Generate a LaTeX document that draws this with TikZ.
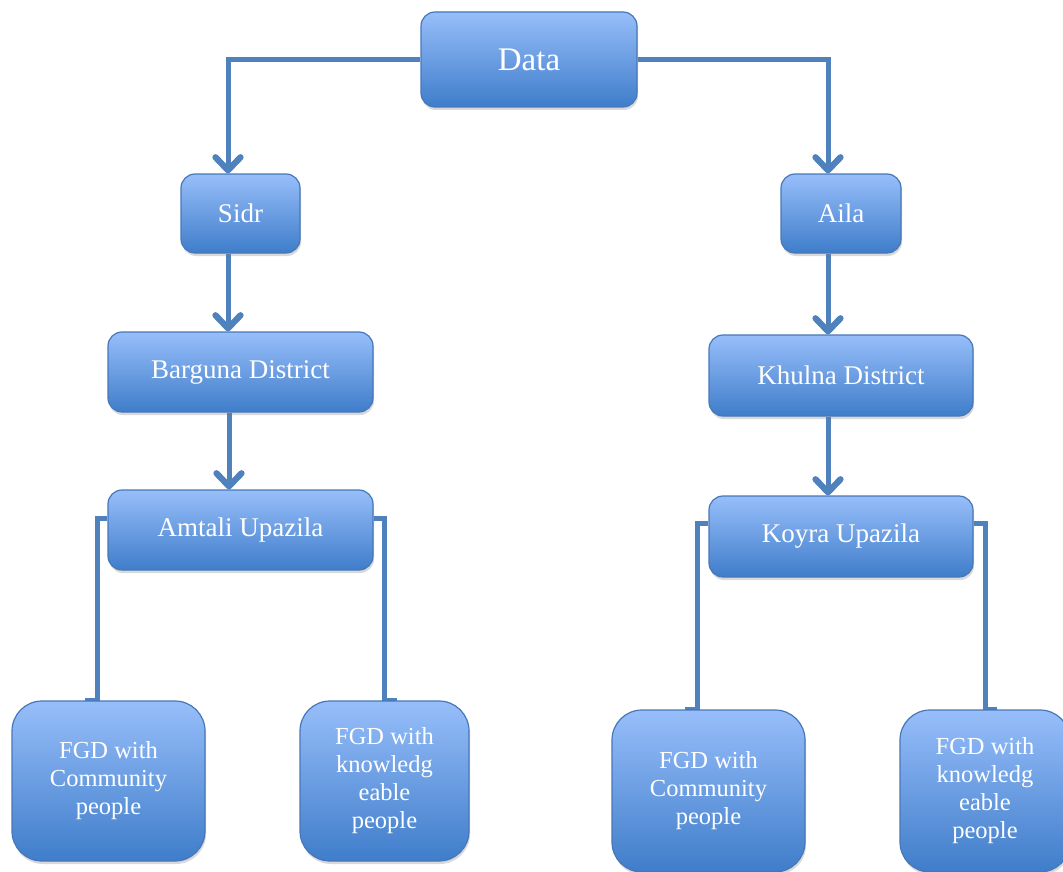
\documentclass[tikz,border=0pt]{standalone}
\usepackage{fontspec}
\setmainfont{Liberation Serif}
\usetikzlibrary{arrows.meta,shadows,backgrounds}
\definecolor{connc}{RGB}{79,129,189}
\definecolor{boxtop}{RGB}{151,190,250}
\definecolor{boxbot}{RGB}{63,125,202}
\definecolor{boxline}{RGB}{70,120,185}
\tikzset{
  box/.style={draw=boxline, line width=1.2pt, top color=boxtop, bottom color=boxbot,
    text=white, align=center, inner sep=0pt,
    drop shadow={opacity=0.3, shadow xshift=1pt, shadow yshift=-3pt}},
  smallbox/.style={box, rounded corners=14pt, font=\fontsize{27}{31}\selectfont},
  fgdbox/.style={box, rounded corners=30pt, font=\fontsize{24.5}{28}\selectfont},
  conn/.style={draw=connc, line width=5pt},
  arr/.style={-{Straight Barb[length=13pt,width=25pt,line width=0pt 1.25,round]}}
}
\begin{document}
\begin{tikzpicture}[x=1pt,y=-1pt]
\useasboundingbox (0,0) rectangle (1063,872);
\node[box, rounded corners=14pt, minimum width=216pt, minimum height=95pt,
  font=\fontsize{33}{38}\selectfont] (data) at (529,59.5) {Data};
\node[smallbox, minimum width=119pt, minimum height=79pt] (sidr) at (240.5,213.5) {Sidr};
\node[smallbox, minimum width=120pt, minimum height=79pt] (aila) at (841,213.5) {Aila};
\node[smallbox, minimum width=265pt, minimum height=80pt] (barguna) at (240.5,372) {Barguna District};
\node[smallbox, minimum width=264pt, minimum height=81pt] (khulna) at (841,375.5) {Khulna District};
\node[smallbox, minimum width=265pt, minimum height=80pt] (amtali) at (240.5,530) {Amtali Upazila};
\node[smallbox, minimum width=264pt, minimum height=81pt] (koyra) at (841,536.5) {Koyra Upazila};
\node[fgdbox, minimum width=193pt, minimum height=160pt] (fgdA) at (108.5,781) {FGD with\\Community\\people};
\node[fgdbox, minimum width=169pt, minimum height=160pt] (fgdB) at (384.5,781) {FGD with\\knowledg\\eable\\people};
\node[fgdbox, minimum width=193pt, minimum height=162pt] (fgdC) at (708.5,791) {FGD with\\Community\\people};
\node[fgdbox, minimum width=170pt, minimum height=162pt] (fgdD) at (985,791) {FGD with\\knowledg\\eable\\people};
\begin{pgfonlayer}{background}
\draw[conn,arr] (data.west) -| ([xshift=-12.5pt]sidr.north);
\draw[conn,arr] (data.east) -| ([xshift=-13pt]aila.north);
\draw[conn,arr] ([xshift=-12.5pt]sidr.south) -- ([xshift=-12.5pt]barguna.north);
\draw[conn,arr] ([xshift=-11.5pt]barguna.south) -- ([xshift=-11.5pt]amtali.north);
\draw[conn,arr] ([xshift=-13pt]aila.south) -- ([xshift=-13pt]khulna.north);
\draw[conn,arr] ([xshift=-13pt]khulna.south) -- ([xshift=-13pt]koyra.north);
\draw[conn] ([yshift=12pt]amtali.west) -| ([xshift=-11.5pt]fgdA.north) -- ++(-12,0);
\draw[conn] ([yshift=12pt]amtali.east) -| (fgdB.north) -- ++(12,0);
\draw[conn] ([yshift=13.5pt]koyra.west) -| ([xshift=-11.5pt]fgdC.north) -- ++(-12,0);
\draw[conn] ([yshift=13.5pt]koyra.east) -| (fgdD.north) -- ++(12,0);
\end{pgfonlayer}
\end{tikzpicture}
\end{document}
